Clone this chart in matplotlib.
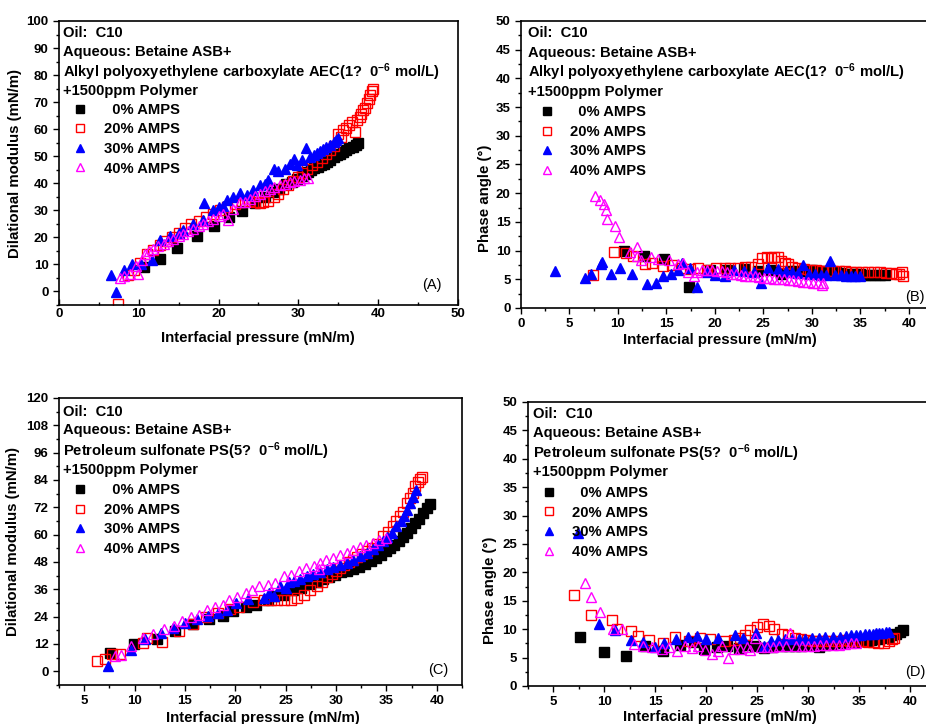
import matplotlib
matplotlib.use('Agg')
import matplotlib.pyplot as plt
from matplotlib.ticker import MultipleLocator

plt.rcParams['font.family'] = ['Liberation Sans', 'DejaVu Sans']
plt.rcParams['font.weight'] = 'bold'
plt.rcParams['axes.labelweight'] = 'bold'
plt.rcParams['mathtext.fontset'] = 'custom'
plt.rcParams['mathtext.rm'] = 'Liberation Sans:bold'
plt.rcParams['mathtext.default'] = 'rm'

labels = ['  0% AMPS', '20% AMPS', '30% AMPS', '40% AMPS']

# (A) dilational modulus, AEC system
a0_x = [10.6, 12.6, 14.8, 17.3, 19.4, 21.3, 22.9, 24.5, 25.8, 26.8, 27.6, 28.5, 29.2, 29.8, 30.4, 30.8,
        31.2, 31.6, 32.0, 32.4, 32.8, 33.2, 33.6, 34.0, 34.4, 34.8, 35.2, 35.6, 36.0, 36.4, 36.8, 37.2, 37.5]
a0_y = [9.1, 12.1, 16.2, 20.7, 24.3, 27.4, 29.9, 32.7, 34.9, 36.9, 38.0, 39.6, 40.5, 41.7, 42.7, 43.5,
        44.2, 45.0, 45.6, 46.0, 46.6, 47.3, 48.0, 48.7, 49.6, 50.3, 50.9, 51.5, 52.2, 52.9, 53.6, 54.3, 54.9]
a20_x = [7.35, 8.6, 9.4, 10.2, 11.0, 11.8, 12.6, 13.4, 14.2, 15.0, 15.8, 16.6, 17.5, 18.4, 19.3, 20.2,
         21.1, 22.0, 22.9, 23.8, 24.6, 25.2, 25.6, 26.2, 26.9, 27.5, 28.1, 28.7, 29.3, 29.9, 30.5, 31.1,
         31.7, 32.3, 32.9, 33.5, 34.0, 34.5, 35.0, 35.3, 35.6, 36.0, 36.3, 36.7, 37.1, 37.4, 37.7, 37.9,
         38.1, 38.3, 38.6, 38.8, 39.0, 39.2, 39.3]
a20_y = [-4.8, 6.0, 8.0, 10.5, 14.0, 15.5, 17.2, 18.8, 20.3, 21.8, 23.3, 24.8, 26.0, 27.5, 28.8, 30.0,
         31.2, 32.2, 33.2, 33.5, 33.0, 32.7, 33.1, 33.4, 34.9, 36.2, 37.8, 39.3, 40.8, 42.3, 43.8, 45.2,
         46.6, 48.0, 49.4, 50.8, 52.2, 53.8, 58.4, 57.0, 59.6, 60.3, 61.5, 62.5, 59.0, 63.5, 64.6, 65.8,
         67.0, 68.0, 69.5, 71.0, 72.6, 74.0, 74.7]
a30_x = [6.5, 7.1, 8.1, 9.2, 10.3, 11.6, 12.7, 13.9, 15.0, 15.6, 16.8, 18.1, 18.2, 19.3, 20.0, 20.6,
         21.0, 21.8, 22.7, 23.5, 24.3, 25.2, 25.8, 26.2, 26.9, 27.5, 28.3, 28.9, 29.4, 29.8, 30.4, 31.0,
         31.4, 31.9, 32.3, 32.7, 33.1, 33.5, 34.0, 34.4, 34.7, 35.0]
a30_y = [6.2, -0.3, 8.0, 10.2, 10.2, 11.7, 18.9, 20.7, 21.5, 22.8, 24.8, 26.5, 32.6, 30.0, 31.2, 31.5,
         33.7, 34.9, 36.4, 35.8, 37.6, 39.3, 39.9, 41.1, 45.4, 44.6, 45.4, 47.0, 49.1, 46.7, 48.5, 53.2,
         49.6, 50.4, 51.2, 52.0, 52.7, 53.4, 54.2, 55.3, 56.0, 56.9]
a40_x = [7.6, 8.2, 8.9, 9.6, 9.9, 10.4, 10.8, 11.3, 11.8, 12.4, 13.1, 13.7, 14.3, 15.0, 15.6, 16.2,
         16.8, 17.5, 18.1, 18.7, 19.3, 20.0, 20.6, 21.2, 21.8, 22.7, 23.3, 23.9, 24.5, 25.2, 25.8, 26.4,
         27.0, 27.7, 28.3, 28.9, 29.5, 30.2, 30.7, 31.2]
a40_y = [4.9, 5.8, 6.5, 9.6, 6.5, 11.5, 14.0, 15.0, 15.8, 16.8, 17.7, 18.6, 19.5, 20.5, 21.4, 22.3,
         23.2, 24.2, 25.1, 26.0, 26.9, 27.9, 28.8, 26.3, 30.5, 33.1, 33.0, 34.3, 35.2, 36.2, 37.1, 38.0,
         38.6, 39.3, 39.9, 40.5, 41.0, 41.4, 41.8, 42.1]

# (B) phase angle, AEC system
b0_x = [10.6, 12.65, 14.8, 17.3, 19.45, 21.3, 22.96, 24.4, 25.8, 26.8, 27.7, 28.4, 29.0, 29.5, 30.0,
        30.5, 31.0, 31.5, 32.0, 32.5, 33.0, 33.5, 34.0, 34.5, 35.0, 35.5, 36.0, 36.5, 37.0, 37.5]
b0_y = [10.0, 9.1, 8.5, 3.7, 6.6, 6.7, 6.8, 6.5, 6.7, 5.9, 6.5, 6.5, 6.5, 6.4, 6.6,
        6.5, 6.4, 6.3, 6.2, 6.2, 6.1, 6.0, 6.0, 5.9, 5.9, 5.8, 5.8, 5.8, 5.7, 5.8]
b20_x = [7.4, 9.6, 10.8, 11.6, 12.75, 13.5, 14.7, 15.6, 16.5, 17.4, 18.3, 19.2, 20.1, 21.0, 21.6, 22.4,
         23.1, 23.7, 24.4, 24.9, 25.4, 25.8, 26.1, 26.5, 26.8, 27.2, 27.5, 28.0, 28.6, 29.2, 29.8, 30.4,
         31.0, 31.6, 32.2, 32.8, 33.4, 34.0, 34.6, 35.2, 35.8, 36.4, 37.0, 37.6, 38.2, 38.7, 39.0, 39.3, 39.4]
b20_y = [5.7, 9.8, 9.5, 9.0, 7.6, 7.8, 7.3, 7.5, 7.0, 6.8, 6.9, 6.7, 6.9, 7.0, 6.9, 7.0,
         7.1, 7.2, 7.6, 8.7, 8.8, 8.7, 8.9, 8.8, 8.1, 7.9, 7.6, 7.2, 7.0, 6.8, 6.7, 6.6,
         6.5, 6.5, 6.4, 6.4, 6.4, 6.3, 6.3, 6.3, 6.2, 6.2, 6.2, 6.1, 6.1, 6.0, 6.0, 6.2, 5.6]
b30_x = [3.5, 6.6, 7.2, 8.3, 8.4, 9.3, 10.2, 11.5, 13.0, 13.95, 14.7, 15.5, 16.2, 16.6, 17.4, 18.2,
         19.2, 20.0, 21.0, 22.0, 23.0, 24.0, 24.8, 25.5, 26.5, 27.3, 28.0, 28.6, 29.1, 29.7, 30.3, 30.9,
         31.5, 31.9, 32.4, 33.0, 33.5, 34.0, 34.5, 35.0]
b30_y = [6.4, 5.3, 6.0, 7.7, 8.0, 5.9, 6.9, 5.9, 4.2, 4.4, 5.5, 6.0, 6.7, 7.8, 6.9, 3.7,
         6.2, 5.7, 5.5, 6.6, 6.4, 6.3, 4.3, 6.9, 6.8, 6.4, 6.2, 6.1, 7.5, 6.0, 5.9, 5.8,
         5.8, 8.1, 5.7, 5.7, 5.6, 5.6, 5.5, 5.6]
b40_x = [7.66, 8.1, 8.6, 8.8, 8.9, 9.7, 10.1, 11.2, 12.0, 12.0, 12.4, 13.4, 14.1, 15.3, 16.2, 16.7,
         17.2, 17.8, 18.2, 18.7, 19.2, 19.7, 20.2, 20.7, 21.2, 21.7, 22.2, 22.7, 23.1, 23.6, 24.1, 24.6,
         25.1, 25.6, 26.1, 26.6, 27.1, 27.6, 28.1, 28.6, 29.1, 29.6, 30.1, 30.6, 31.0, 31.2]
b40_y = [19.5, 18.9, 18.1, 17.1, 15.5, 14.3, 12.3, 9.8, 10.6, 9.1, 8.4, 8.8, 8.6, 8.4, 7.7, 7.8,
         6.3, 5.5, 6.3, 6.6, 6.6, 6.7, 6.5, 6.4, 6.2, 6.0, 5.9, 5.7, 5.5, 5.6, 5.5, 5.4,
         5.3, 5.2, 5.1, 5.0, 5.0, 4.9, 4.8, 4.7, 4.6, 4.5, 4.4, 4.3, 4.0, 4.4]

# (C) dilational modulus, PS system
c0_x = [7.6, 9.96, 12.2, 14.0, 15.8, 17.4, 18.8, 19.8, 21.1, 22.1, 23.2, 23.8, 24.8, 25.7, 26.5, 27.4,
        28.1, 28.7, 29.3, 29.9, 30.5, 31.1, 31.7, 32.3, 32.9, 33.5, 34.0, 34.5, 35.0, 35.4, 35.8, 36.2,
        36.6, 37.0, 37.4, 37.8, 38.2, 38.6, 39.0, 39.3]
c0_y = [7.9, 11.8, 14.3, 17.7, 20.6, 23.1, 24.5, 26.4, 28.3, 29.3, 31.5, 33.0, 33.7, 35.9, 36.7, 38.4,
        39.4, 40.4, 41.5, 42.5, 43.5, 44.2, 45.0, 46.0, 47.2, 48.5, 49.8, 51.2, 52.7, 54.0, 55.5, 57.2,
        59.0, 60.9, 62.8, 64.9, 67.0, 69.3, 71.6, 73.5]
c20_x = [6.3, 7.1, 7.8, 8.6, 10.8, 11.2, 12.7, 14.45, 15.8, 17.1, 18.3, 19.5, 20.4, 21.8, 22.8, 23.5,
         24.1, 24.8, 25.5, 26.1, 26.8, 27.4, 28.1, 28.6, 29.1, 29.6, 30.0, 30.4, 30.8, 31.3, 31.7, 32.1,
         32.6, 33.1, 33.6, 34.1, 34.7, 35.2, 35.7, 36.0, 36.3, 36.6, 37.0, 37.3, 37.6, 37.8, 38.1, 38.3, 38.5]
c20_y = [4.5, 5.5, 7.4, 7.4, 12.6, 14.5, 13.0, 17.7, 20.9, 24.0, 25.8, 27.2, 28.3, 30.4, 31.5, 31.3,
         31.2, 31.2, 31.5, 32.2, 33.6, 35.8, 37.5, 39.4, 41.4, 42.9, 44.0, 45.4, 46.5, 47.8, 49.0, 50.0,
         51.3, 52.7, 54.3, 56.0, 59.3, 61.3, 63.6, 65.8, 68.0, 70.0, 73.9, 76.0, 78.5, 81.2, 83.0, 84.5, 85.5]
c30_x = [7.4, 9.6, 11.05, 12.6, 13.8, 15.0, 16.2, 17.3, 18.3, 19.2, 20.1, 21.3, 22.8, 23.3, 23.8, 24.4,
         25.0, 25.3, 25.8, 26.4, 27.1, 27.7, 28.4, 29.1, 29.7, 30.4, 31.1, 31.7, 32.4, 33.1, 33.7, 34.2,
         34.7, 35.1, 35.6, 36.0, 36.4, 36.7, 37.0, 37.3, 37.6, 37.9]
c30_y = [2.3, 9.2, 14.0, 16.6, 19.0, 21.3, 22.8, 24.5, 25.7, 26.7, 29.8, 31.8, 32.3, 34.2, 33.0, 37.4,
         36.5, 39.0, 39.8, 40.7, 41.7, 42.7, 43.7, 44.7, 45.7, 46.6, 47.6, 49.0, 50.5, 52.0, 53.6, 55.3,
         57.1, 58.8, 60.8, 63.6, 66.0, 68.4, 71.0, 73.7, 76.5, 79.7]
c40_x = [8.1, 8.7, 9.6, 10.8, 11.8, 12.9, 13.9, 14.75, 15.6, 16.4, 17.2, 18.0, 18.8, 19.4, 20.2, 21.1,
         21.7, 22.4, 23.2, 23.9, 24.8, 25.5, 26.3, 27.0, 27.8, 28.3, 28.4, 29.0, 29.7, 30.4, 31.1, 31.7,
         32.4, 33.0, 33.7, 34.3, 35.0]
c40_y = [6.7, 7.2, 11.1, 14.7, 16.3, 18.6, 19.9, 22.3, 23.8, 24.9, 26.8, 28.2, 29.3, 31.2, 32.7, 34.5,
         35.9, 37.4, 38.1, 38.9, 41.7, 42.4, 43.9, 45.4, 46.4, 45.0, 47.6, 48.7, 49.8, 50.9, 52.0, 53.3,
         54.6, 55.5, 56.4, 57.5, 58.6]

# (D) phase angle, PS system
d0_x = [7.6, 9.96, 12.2, 14.0, 15.8, 17.4, 18.8, 19.8, 21.1, 22.1, 23.2, 23.8, 24.8, 25.7, 26.5, 27.4,
        28.1, 28.7, 29.3, 29.9, 30.5, 31.1, 31.7, 32.3, 32.9, 33.5, 34.0, 34.5, 35.0, 35.4, 35.8, 36.2,
        36.6, 37.0, 37.4, 37.8, 38.2, 38.6, 39.0, 39.3]
d0_y = [8.7, 5.9, 5.3, 7.0, 6.2, 7.3, 7.7, 6.5, 6.8, 7.0, 6.7, 7.3, 7.0, 6.6, 6.9, 7.0,
        7.1, 7.0, 7.1, 7.2, 7.2, 6.9, 7.3, 7.4, 7.5, 7.6, 7.7, 7.8, 7.9, 8.0, 8.0, 8.1,
        8.2, 8.3, 8.5, 8.7, 8.9, 9.2, 9.5, 9.8]
d20_x = [7.1, 8.7, 10.75, 11.3, 12.6, 13.3, 14.4, 15.75, 17.0, 18.3, 19.4, 20.4, 21.9, 22.7, 23.3, 23.8,
         24.3, 25.0, 25.6, 26.2, 26.7, 27.4, 28.0, 28.7, 29.3, 29.9, 30.5, 31.1, 31.7, 32.3, 32.9, 33.5,
         34.1, 34.7, 35.3, 35.9, 36.4, 36.9, 37.4, 37.9, 38.2, 38.4]
d20_y = [16.0, 12.5, 11.7, 10.0, 9.6, 8.8, 8.1, 7.6, 8.6, 8.0, 8.4, 8.2, 7.9, 8.1, 8.5, 9.0,
         9.9, 10.3, 10.9, 10.5, 10.1, 9.2, 8.9, 8.5, 8.3, 8.1, 8.0, 8.0, 8.0, 8.0, 8.0, 8.1,
         8.0, 7.9, 7.9, 7.8, 7.7, 7.6, 7.5, 8.0, 8.2, 8.4]
d30_x = [7.4, 9.5, 11.1, 12.6, 13.8, 15.0, 15.9, 17.1, 18.2, 19.1, 20.0, 21.2, 22.8, 23.6, 24.9, 25.7,
         26.4, 27.1, 27.7, 28.4, 29.1, 29.7, 30.4, 31.1, 31.7, 32.4, 33.1, 33.7, 34.2, 34.7, 35.1, 35.6,
         36.0, 36.4, 36.7, 37.0, 37.3, 37.6, 37.9]
d30_y = [26.9, 10.9, 9.9, 8.1, 7.8, 6.9, 7.5, 8.2, 8.7, 8.8, 8.2, 8.5, 9.0, 8.4, 9.3, 7.0,
         8.0, 8.1, 8.2, 8.2, 8.3, 8.3, 8.4, 8.5, 8.6, 8.6, 8.7, 8.8, 8.9, 9.0, 9.0, 9.1,
         9.2, 9.2, 9.3, 9.3, 9.4, 9.5, 9.5]
d40_x = [8.1, 8.7, 9.6, 10.85, 11.8, 12.9, 13.85, 14.75, 15.7, 16.4, 17.2, 17.9, 18.65, 19.2, 19.9, 20.6,
         21.2, 21.6, 22.2, 22.7, 23.3, 24.0, 24.3, 24.8, 25.4, 26.0, 26.6, 27.2, 27.8, 28.2, 28.8, 29.4,
         30.0, 30.6, 31.2, 31.8, 32.4, 33.0, 33.6, 34.2, 34.7]
d40_y = [18.2, 15.6, 13.1, 10.0, 10.0, 7.4, 7.0, 6.8, 6.5, 6.8, 6.2, 7.0, 6.6, 7.0, 6.4, 5.7,
         6.2, 7.0, 5.0, 6.5, 6.5, 6.8, 6.3, 8.5, 6.8, 6.9, 6.9, 7.0, 7.0, 9.4, 7.0, 7.0,
         7.1, 7.1, 7.2, 7.2, 7.3, 7.3, 7.4, 7.5, 7.6]

header_aec = ['Oil:  C10', 'Aqueous: Betaine ASB+',
              r'Alkyl polyoxyethylene carboxylate AEC(1?  0$^{-6}$ mol/L)', '+1500ppm Polymer']
header_ps = ['Oil:  C10', 'Aqueous: Betaine ASB+',
             r'Petroleum sulfonate PS(5?  0$^{-6}$ mol/L)', '+1500ppm Polymer']

styles = [
    dict(marker='s', color='black', mfc='black', mec='black'),
    dict(marker='s', color='red', mfc='none', mec='red', mew=1.0),
    dict(marker='^', color='blue', mfc='blue', mec='blue'),
    dict(marker='^', color='magenta', mfc='none', mec='magenta', mew=1.0),
]


def draw_panel(rect, series, xlim, ylim, xstep, ystep, ylabel, header, tag,
               text_x, text_y, leg_anchor, ylab_pos, xlab_pos, tag_pos, xtick_dir='out'):
    ax = fig.add_axes(rect)
    for (x, y), lab, st in zip(series, labels, styles):
        ax.plot(x, y, ls='none', ms=6.5, label=lab, **st)
    ax.set_xlim(*xlim)
    ax.set_ylim(*ylim)
    ax.xaxis.set_major_locator(MultipleLocator(xstep))
    ax.xaxis.set_minor_locator(MultipleLocator(xstep / 2))
    ax.yaxis.set_major_locator(MultipleLocator(ystep))
    ax.yaxis.set_minor_locator(MultipleLocator(ystep / 2))
    ax.tick_params(which='both', direction='out', width=1.0, labelsize=9.5)
    ax.tick_params(which='major', length=4)
    ax.tick_params(which='minor', length=2.5)
    if xtick_dir == 'in':
        ax.tick_params(axis='x', which='both', direction='in', pad=2)
    for sp in ax.spines.values():
        sp.set_linewidth(1.2)
    ax.set_xlabel('Interfacial pressure (mN/m)', fontsize=10.8, va='center')
    ax.set_ylabel(ylabel, fontsize=10.8, va='center')
    ax.xaxis.set_label_coords(*xlab_pos)
    ax.yaxis.set_label_coords(*ylab_pos)
    for ty, line in zip(text_y, header):
        ax.text(text_x, ty, line, transform=ax.transAxes, fontsize=10.6,
                va='center', ha='left')
    ax.legend(loc='upper left', bbox_to_anchor=leg_anchor, frameon=False,
              borderpad=0, borderaxespad=0, handlelength=1.0, handletextpad=1.1,
              labelspacing=0.38, markerscale=0.85, prop=dict(size=10.6, weight='bold'))
    ax.text(tag_pos[0], tag_pos[1], tag, transform=ax.transAxes, fontsize=10.5,
            fontweight='normal', ha='center', va='center')
    return ax


fig = plt.figure(figsize=(9.26, 7.24), dpi=100)

draw_panel([0.0637, 0.5787, 0.4309, 0.3923],
           [(a0_x, a0_y), (a20_x, a20_y), (a30_x, a30_y), (a40_x, a40_y)],
           (0, 50), (-5, 100), 10, 10, 'Dilational modulus (mN/m)', header_aec, '(A)',
           0.01, [0.958, 0.891, 0.820, 0.754], (0.035, 0.712),
           (-0.11, 0.5), (0.499, -0.116), (0.935, 0.07), xtick_dir='in')

draw_panel([0.5626, 0.5746, 0.445, 0.3964],
           [(b0_x, b0_y), (b20_x, b20_y), (b30_x, b30_y), (b40_x, b40_y)],
           (0, 42.5), (0, 50), 5, 5, 'Phase angle (°)', header_aec, '(B)',
           0.016, [0.958, 0.889, 0.822, 0.753], (0.045, 0.707),
           (-0.087, 0.383), (0.483, -0.111), (0.955, 0.038))

draw_panel([0.0637, 0.0539, 0.4352, 0.3964],
           [(c0_x, c0_y), (c20_x, c20_y), (c30_x, c30_y), (c40_x, c40_y)],
           (2.5, 42.5), (-6, 120), 5, 12, 'Dilational modulus (mN/m)', header_ps, '(C)',
           0.011, [0.951, 0.889, 0.815, 0.749], (0.034, 0.703),
           (-0.115, 0.5), (0.506, -0.115), (0.941, 0.052))

draw_panel([0.5697, 0.0525, 0.4406, 0.3923],
           [(d0_x, d0_y), (d20_x, d20_y), (d30_x, d30_y), (d40_x, d40_y)],
           (2.5, 42.5), (0, 50), 5, 5, 'Phase angle (°)', header_ps, '(D)',
           0.013, [0.958, 0.891, 0.820, 0.754], (0.034, 0.704),
           (-0.093, 0.338), (0.472, -0.109), (0.95, 0.05))

fig.savefig('out.png', dpi=100)
